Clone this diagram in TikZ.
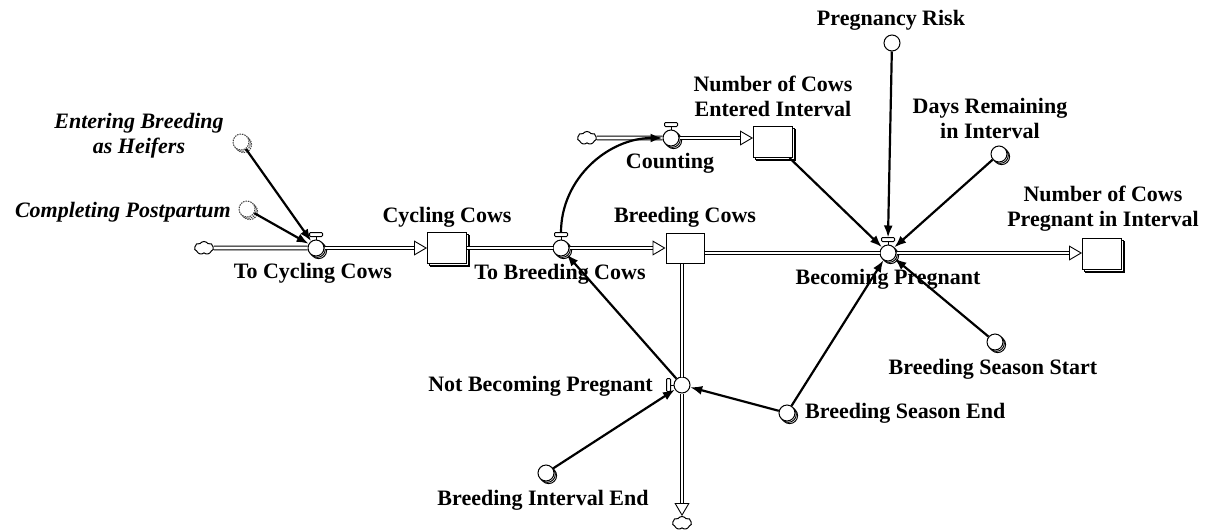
\documentclass[tikz,border=0pt]{standalone}
\usepackage{fontspec}
\setmainfont{Liberation Serif}
\usetikzlibrary{arrows.meta}
\usetikzlibrary{shadows}
\usetikzlibrary{shapes.symbols}
\usetikzlibrary{calc}

\newcommand{\lblfont}{\fontsize{22}{25}\selectfont\bfseries}
\newcommand{\tophandle}[1]{%
	\draw[line width=1pt] (#1.north) -- ++(0,-3);
	\draw[line width=1pt, fill=white, rounded corners=1pt] ($(#1.north)+(-6.5,-3)$) rectangle ($(#1.north)+(6.5,-7)$);}

\tikzset{
	stock/.style={draw, fill=white, line width=1pt, minimum width=39pt, minimum height=31pt, inner sep=0pt, double copy shadow={shadow xshift=1.6pt, shadow yshift=-1.6pt}},
	bare stock/.style={draw, fill=white, line width=1pt, minimum width=38pt, minimum height=30pt, inner sep=0pt},
	conv/.style={circle, draw, fill=white, line width=1pt, minimum size=16pt, inner sep=0pt},
	conv stack/.style={conv, double copy shadow={shadow xshift=1.3pt, shadow yshift=-1.3pt}},
	ghost/.style={conv stack, dash pattern=on 1.5pt off 1pt, draw=black!75},
	valve/.style={conv stack},
	sink/.style={cloud, cloud puffs=7, cloud puff arc=110, aspect=1.6, draw, line width=1pt, fill=white, minimum width=19pt, minimum height=13pt, inner sep=0pt},
	pipe/.style={draw, line width=0.9pt, double distance=2.8pt},
	inflow/.style={pipe, -{Triangle[open, length=13pt, width=15pt]}},
	link/.style={line width=2.2pt, -{Latex[length=12pt, width=9pt]}},
	lbl/.style={font=\lblfont, inner sep=0pt, align=center},
	ilbl/.style={lbl, font=\lblfont\itshape},
}

\begin{document}
\begin{tikzpicture}[x=1pt, y=-1pt]
	\useasboundingbox (0,0) rectangle (1208,531);

	% stocks, flows and clouds
	\node[sink] (src1) at (204,248) {};
	\node[valve] (tcc) at (316,248) {};
	\node[stock] (cyc) at (447,248) {};
	\node[valve] (tbc) at (561,248) {};
	\node[bare stock] (brd) at (685,248) {};
	\node[sink] (src2) at (587,138) {};
	\node[valve] (cnt) at (671,138) {};
	\node[stock] (nce) at (773,142) {};
	\node[valve] (bp) at (888,253) {};
	\node[stock] (ncp) at (1102,254) {};
	\node[conv] (nbp) at (682,385) {};
	\node[sink] (snk) at (682,523) {};

	% converters
	\node[conv] (risk) at (892,43) {};
	\node[conv stack] (days) at (999,154) {};
	\node[conv stack] (bss) at (995,342) {};
	\node[conv stack] (bse) at (787,413) {};
	\node[conv stack] (bie) at (546,473) {};
	\node[ghost] (heif) at (241,142) {};
	\node[ghost] (post) at (247,209) {};

	% labels
	\node[ilbl] (heifl) at (139,136) {Entering Breeding\\as Heifers};
	\node[ilbl, anchor=east] (postl) at (231,212) {Completing Postpartum};
	\node[lbl] (tccl) at (313,273) {To Cycling Cows};
	\node[lbl] (cycl) at (447,217) {Cycling Cows};
	\node[lbl] (tbcl) at (560,274) {To Breeding Cows};
	\node[lbl] (brdl) at (685,217) {Breeding Cows};
	\node[lbl] (cntl) at (670,163) {Counting};
	\node[lbl] (ncel) at (773,96) {Number of Cows\\Entered Interval};
	\node[lbl] (riskl) at (891,20) {Pregnancy Risk};
	\node[lbl] (daysl) at (990,118) {Days Remaining\\in Interval};
	\node[lbl] (ncpl) at (1103,209) {Number of Cows\\Pregnant in Interval};
	\node[lbl] (bpl) at (888,279) {Becoming Pregnant};
	\node[lbl] (bssl) at (993,369) {Breeding Season Start};
	\node[lbl, anchor=west] (bsel) at (805,413) {Breeding Season End};
	\node[lbl, anchor=east] (nbpl) at (653,386) {Not Becoming Pregnant};
	\node[lbl] (biel) at (543,500) {Breeding Interval End};

	% pipes
	\draw[pipe] (src1) -- (tcc);
	\draw[inflow] (tcc) -- (cyc);
	\draw[pipe] (cyc) -- (tbc);
	\draw[inflow] (tbc) -- (brd);
	\draw[pipe] (src2) -- (cnt);
	\draw[inflow] (cnt) -- (cnt -| nce.west);
	\draw[pipe] (brd.east |- bp) -- (bp);
	\draw[inflow] (bp) -- (bp -| ncp.west);
	\draw[pipe] (nbp |- brd.south) -- (nbp);
	\draw[inflow] (nbp) -- (snk);

	% valve handles
	\tophandle{tcc}
	\tophandle{tbc}
	\tophandle{cnt}
	\tophandle{bp}
	\draw[line width=1pt] (nbp.west) -- ++(-3,0);
	\draw[line width=1pt, fill=white, rounded corners=1pt] ($(nbp.west)+(-3,-6.5)$) rectangle ($(nbp.west)+(-7,6.5)$);
	\coordinate (tbch) at ($(tbc.north)+(0,-7)$);
	\coordinate (bph) at ($(bp.north)+(0,-7)$);

	% connectors
	\draw[link] (heif) -- (tcc);
	\draw[link] (post) -- (tcc);
	\draw[link] (tbch) to[out=90, in=180] (cnt);
	\draw[link] (nbp) -- (tbc);
	\draw[link] (nce) -- (bp);
	\draw[link] (risk) -- (bph);
	\draw[link] (days) -- (bp);
	\draw[link] (bss) -- (bp);
	\draw[link] (bse) -- (bp);
	\draw[link] (bse) -- (nbp);
	\draw[link] (bie) -- (nbp);
\end{tikzpicture}
\end{document}
